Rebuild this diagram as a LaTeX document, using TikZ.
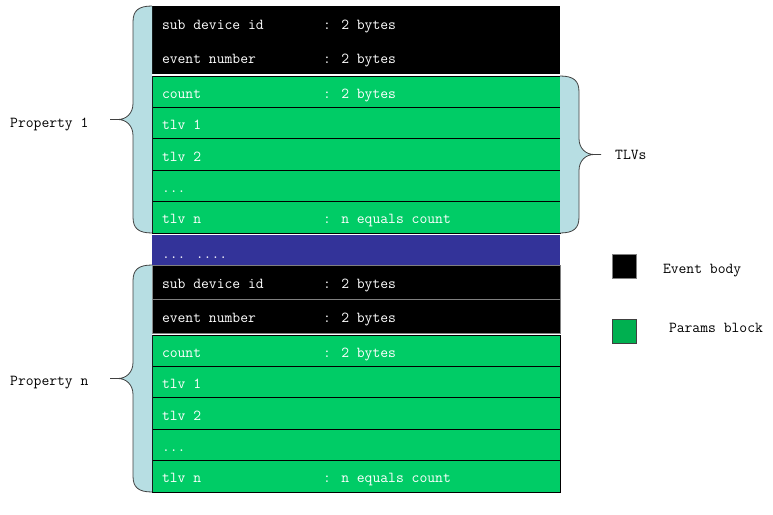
\documentclass[tikz,border=0pt]{standalone}
\usepackage{fontspec}
\usepackage{tikz}
\usetikzlibrary{positioning}
\usetikzlibrary{calc}
\definecolor{tlvgreen}{HTML}{00CC66}
\definecolor{keygreen}{HTML}{00B050}
\definecolor{gapblue}{HTML}{333399}
\definecolor{bracefill}{HTML}{B7DEE3}
\definecolor{braceline}{HTML}{404040}
\newcommand{\rowfont}{\fontsize{15.2}{18}\selectfont\ttfamily}
\newcommand{\fld}[2]{\makebox[388pt][l]{\makebox[161pt][l]{#1}#2}}
\tikzset{
  field/.style={minimum width=408pt, minimum height=31.4pt,
    inner xsep=10pt, inner ysep=0pt, outer sep=0pt,
    text height=13pt, text depth=0pt,
    text=white, font=\rowfont},
  evfield/.style={field, fill=black, minimum height=34pt},
  tlvfield/.style={field, fill=tlvgreen, draw=black, line width=0.8pt},
  gapfield/.style={field, fill=gapblue, minimum height=30pt, text height=16pt},
  keybox/.style={minimum size=24pt, inner sep=0pt, line width=0.8pt},
  lbl/.style={font=\rowfont, text=black, inner sep=0pt},
  bracearea/.style={fill=bracefill, draw=braceline, line width=0.8pt}
}
% brace on the left of a block, from #1 down to #2
\newcommand{\propbrace}[2]{%
  \filldraw[bracearea] let \p1=(#1), \p2=(#2), \n1={0.5*(\y1+\y2)} in
    (\x1,\y1) .. controls (\x1-14pt,\y1) and (\x1-19pt,\y1-5pt) .. (\x1-19pt,\y1-16pt)
    -- (\x1-19pt,\n1+16pt) .. controls (\x1-19pt,\n1+6pt) and (\x1-26pt,\n1) .. (\x1-34pt,\n1)
    -- (\x1-42pt,\n1) -- (\x1-34pt,\n1)
    .. controls (\x1-26pt,\n1) and (\x1-19pt,\n1-6pt) .. (\x1-19pt,\n1-16pt)
    -- (\x1-19pt,\y2+16pt) .. controls (\x1-19pt,\y2+5pt) and (\x1-14pt,\y2) .. (\x1,\y2);
}
% brace on the right of a block, from #1 down to #2
\newcommand{\tlvbrace}[2]{%
  \filldraw[bracearea] let \p1=(#1), \p2=(#2), \n1={0.5*(\y1+\y2)} in
    (\x1,\y1) .. controls (\x1+14pt,\y1) and (\x1+19pt,\y1-5pt) .. (\x1+19pt,\y1-16pt)
    -- (\x1+19pt,\n1+16pt) .. controls (\x1+19pt,\n1+6pt) and (\x1+26pt,\n1) .. (\x1+34pt,\n1)
    -- (\x1+41pt,\n1) -- (\x1+34pt,\n1)
    .. controls (\x1+26pt,\n1) and (\x1+19pt,\n1-6pt) .. (\x1+19pt,\n1-16pt)
    -- (\x1+19pt,\y2+16pt) .. controls (\x1+19pt,\y2+5pt) and (\x1+14pt,\y2) .. (\x1,\y2);
}

\begin{document}
\begin{tikzpicture}[x=1pt, y=1pt]
    \useasboundingbox (0,0) rectangle (773,-514);

    % property 1
    \node[evfield, anchor=north west]
      (subid1) at (152,-6) {\fld{sub device id}{: 2 bytes}};
    \node[evfield]
      (evnum1) [below=0pt of subid1] {\fld{event number}{: 2 bytes}};
    \node[tlvfield]
      (count1) [below=2pt of evnum1] {\fld{count}{: 2 bytes}};
    \node[tlvfield]
      (tlva1) [below=0pt of count1] {\fld{tlv 1}{}};
    \node[tlvfield]
      (tlvb1) [below=0pt of tlva1] {\fld{tlv 2}{}};
    \node[tlvfield]
      (tlvdots1) [below=0pt of tlvb1] {\fld{...}{}};
    \node[tlvfield]
      (tlvn1) [below=0pt of tlvdots1] {\fld{tlv n}{: n equals count}};

    % gap between properties
    \node[gapfield]
      (gap) [below=2pt of tlvn1] {\fld{... ....}{}};

    % property n
    \node[evfield, draw=gray, line width=0.6pt]
      (subid2) [below=0pt of gap] {\fld{sub device id}{: 2 bytes}};
    \node[evfield, draw=gray, line width=0.6pt]
      (evnum2) [below=0pt of subid2] {\fld{event number}{: 2 bytes}};
    \node[tlvfield]
      (count2) [below=2pt of evnum2] {\fld{count}{: 2 bytes}};
    \node[tlvfield]
      (tlva2) [below=0pt of count2] {\fld{tlv 1}{}};
    \node[tlvfield]
      (tlvb2) [below=0pt of tlva2] {\fld{tlv 2}{}};
    \node[tlvfield]
      (tlvdots2) [below=0pt of tlvb2] {\fld{...}{}};
    \node[tlvfield]
      (tlvn2) [below=0pt of tlvdots2] {\fld{tlv n}{: n equals count}};

    % braces
    \propbrace{subid1.north west}{tlvn1.south west}
    \propbrace{subid2.north west}{tlvn2.south west}
    \tlvbrace{count1.north east}{tlvn1.south east}

    \node[lbl, anchor=west]
      (prop1) at (10,-124) {Property 1};
    \node[lbl, anchor=west]
      (propn) at (10,-383) {Property n};
    \node[lbl, anchor=west]
      (tlvs) at (615,-155) {TLVs};

    % legend
    \node[keybox, fill=black, draw=gray, anchor=north west]
      (evkey) at (612,-254) {};
    \node[keybox, fill=keygreen, draw=braceline, anchor=north west]
      (parkey) at (612,-319) {};
    \node[lbl, yshift=-4pt]
      (evtext) [right=26pt of evkey] {Event body};
    \node[lbl, yshift=4pt]
      (partext) [right=32pt of parkey] {Params block};

\end{tikzpicture}
\end{document}
